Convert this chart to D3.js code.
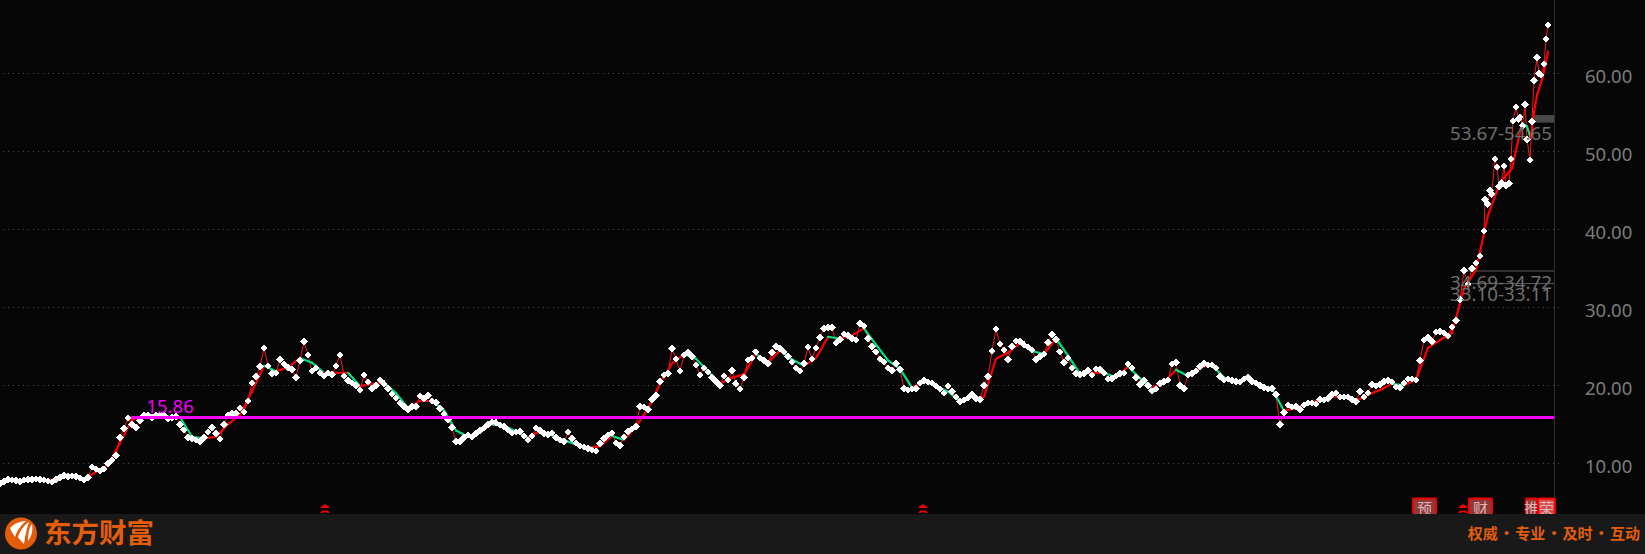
<!DOCTYPE html>
<html><head><meta charset="utf-8">
<style>html,body{margin:0;padding:0;background:#060606;overflow:hidden}svg{display:block}</style>
<script src="https://cdn.jsdelivr.net/npm/d3@7"></script></head><body>
<svg id="c" width="1645" height="554"></svg>
<script>
const closes = [
7.4,7.65,7.95,7.85,7.8,7.65,7.85,7.95,7.95,8.0,
7.95,7.85,7.75,7.6,7.95,8.2,8.45,8.3,8.4,8.3,
8.1,7.85,8.2,9.5,9.3,9.0,9.3,10.0,10.4,11.0,
13.3,14.45,15.8,15.0,14.6,15.5,16.1,16.2,15.9,16.1,
16.15,16.15,15.7,15.9,16,15,14.3,13.3,13.15,13,
12.8,13.3,14.0,14.6,13.8,13.1,15,16.2,16.4,16.4,
17.1,16.6,18,20.3,21.1,22.4,24.8,22.5,21.5,21.6,
23.3,22.7,22.3,22,21,23.2,25.6,23.9,21.8,22.2,
21.6,21.2,21.6,21.4,22.5,23.9,21.2,20.6,20.3,20.0,
19.4,21.3,20.4,19.6,20,20.7,20.2,19.6,18.9,18.4,
17.7,17.3,16.9,17.3,17.3,18.6,18.3,18.7,18,17.8,
17,16.3,15.6,14.6,12.8,12.8,13.3,13.6,13.4,13.8,
14.2,14.5,15,15.3,15.2,14.9,14.7,14.3,13.9,14,
14.05,13.5,13,13.5,14.5,14.2,13.8,13.7,13.9,13.3,
13,12.8,14,13.2,12.6,12.2,12.1,11.9,11.7,11.6,
12.55,13.2,13.6,13.9,12.6,12.3,13.4,14.1,14.4,14.7,
17.3,17.2,16.9,18.2,18.7,20.5,21.3,21.5,24.7,23.4,
21.8,23.9,24.2,23.7,22.6,21.3,22.2,21.7,21,20.5,
20,21.2,20.7,21.9,20.2,19.5,21,23.25,23.5,24.3,
23.5,23.2,22.8,24.2,25,24.7,24.3,23.7,23,22.2,
21.8,22.8,24.9,23.4,24.8,26.1,27.3,27.4,27.4,25.4,
25.9,26.6,26.4,26,25.8,27.9,27.6,26,25,24.3,
23.4,23,22.2,21.9,22.8,22,19.6,19.4,19.5,19.6,
20.3,20.6,20.4,20.3,19.9,19.5,19,19.9,19.2,18.5,
17.9,18.1,18.4,18.8,18.3,18.2,20,21.1,24.4,27.2,
25.3,24.5,23.3,25,25.7,25.6,25.2,24.9,24.5,23.3,
23.7,24,25.5,26.5,25.9,24.3,22.9,23.5,22.2,21.5,
21.4,21.5,21.9,21.3,22.1,22,21.6,20.8,20.9,21.2,
21.5,21.6,22.7,22.2,21,20.1,20.6,20,19.3,19.5,
20.2,20.5,20.7,22.7,22.9,20,19.6,21.3,21.5,21.8,
22.4,22.8,22.6,22.6,22.2,21.1,20.7,20.8,20.6,20.5,
20.4,20.8,21,20.5,20.3,20,19.7,19.5,19.6,18.8,
15,16.5,17.5,17.2,17.3,16.9,
17.5,17.7,17.75,17.6,18.2,18.1,18.3,18.8,19,18.5,
18.5,18.5,18.2,17.9,19.2,18.5,19,20.1,19.9,20.1,
20.5,20.6,20.4,19.8,19.7,20.3,20.8,20.8,20.7,
23.2,25.8,26.1,25.6,26.8,26.9,26.7,26.3,27.5,28.3,
31,34.7,33,35,35.7,36.6,39.8
];
const tailSessions = [371.25,371.9,372.5,372.9,373.75,374.25,374.75,375.4,376,376.5,377.25,377.75,378.25,379,379.6,380,380.7,381.25,381.75,382.5,383,383.5,384.25,384.75,385.25,386,386.5,387];
const tailCloses = [43.85,43.25,45,44.5,49,48,45.5,46,48.1,45.6,45.9,49,53.9,55.7,54.1,54.4,53.3,56,51.5,48.9,53.8,59.1,62,60,59.8,61.2,64.4,66.2];
const trendValues = [
7.4,7.85,7.8,8,7.8,8.2,8.35,7.9,8.9,9.8,12.6,15.6,
16.1,16.1,16,15.9,13.4,13.2,13.4,15.0,16.2,19.2,22.5,21.8,
22.3,23.5,22.9,21.6,21.6,21.6,19.9,20.2,20.3,19,
17.1,18,18,16.8,14.2,13.4,14.0,15,14.8,14.1,13.3,14.1,13.6,13,12.4,12,12.2,13.5,13,14.7,17,20.2,22.8,24,23.4,21.8,20.2,21,21.4,24,22.9,24.5,23.3,
22.5,23.5,26.2,26,26.4,27.3,25.2,23.2,22.1,19.7,20.5,19.9,19.2,18,18.5,18.5,23.4,24.2,25.4,24.4,24,26,23.8,21.5,21.6,21.6,21,22.4,20.9,19.7,20.4,22,21.2,22.3,22.6,21,20.5,20.9,20,19.6,16.7,17.1,
17.7,18.1,18.5,18.6,18,18.8,19.4,20.2,20,20.7,24.8,25.8,26.7,32.4,34.8
];
const trendTailSessions = [372,375,378,380.5,381.75,382.67,383.5,384.25,385.75,387];
const trendTailValues = [41.8,46,47.8,53.6,53.2,51.7,55,57.2,59.6,62.8];
const yTicks = [10,20,30,40,50,60];
const costLevel = 15.86;
const zoneLabels = ["53.67-54.65","34.69-34.72","33.10-33.11"];
const zoneLow = [53.67,34.69,33.10];
const zoneHigh = [54.65,34.72,33.11];
const zoneReach = [21,89,89];
const arrowSessions = [81.25,230.75,365.75];
const badgeSessions = [353.25,367.25,381.5,384.5];
const badgeWidths = [23,23,11,17];
const badgeTexts = ["预","财","推","荣"];
const footerBrand = "东方财富";
const footerSlogan = "权威 · 专业 · 及时 · 互动";

const W=1645,H=554,axisX=1554,footY=514;
const FONT='"Noto Sans","Noto Sans CJK SC",sans-serif';
const svg=d3.select('#c');
svg.append('rect').attr('width',W).attr('height',H).attr('fill','#060606');
const x=d3.scaleLinear().domain([0,411.25]).range([0,W]);
const y=d3.scaleLinear().domain([10,60]).range([463.3,73.3]);

// grid
const grid=svg.append('g').attr('transform',`translate(${axisX+5},0)`)
 .call(d3.axisLeft(y).tickValues(yTicks).tickSize(axisX+5).tickFormat(''));
grid.select('.domain').remove();
grid.selectAll('line').attr('stroke','#4a4a4a').attr('stroke-dasharray','1 4').attr('shape-rendering','crispEdges');

// zones
const zones=svg.append('g');
zoneLabels.forEach((t,i)=>{
  const top=y(zoneHigh[i]),bot=y(zoneLow[i]);
  zones.append('rect').attr('x',axisX-zoneReach[i]).attr('width',zoneReach[i])
   .attr('y',top).attr('height',Math.max(1,bot-top)).attr('fill',i==0?'#484848':'#5a5a5a');
});

// series
const pts=closes.map((v,i)=>[i,v]).concat(tailSessions.map((s,i)=>[s,tailCloses[i]]));
const tr=trendValues.map((v,i)=>[i*3,v]).concat(trendTailSessions.map((s,i)=>[s,trendTailValues[i]]));
const line=d3.line().x(d=>x(d[0])).y(d=>y(d[1]));
svg.append('path').attr('d',line(pts)).attr('fill','none').attr('stroke','#f01c1c').attr('stroke-width',1);
svg.append('g').selectAll('line').data(d3.pairs(tr)).join('line')
 .attr('x1',d=>x(d[0][0])).attr('y1',d=>y(d[0][1])).attr('x2',d=>x(d[1][0])).attr('y2',d=>y(d[1][1]))
 .attr('stroke',d=>d[1][1]>=d[0][1]?'#ff0000':'#00e283').attr('stroke-width',2.2).attr('stroke-linecap','round');
const diamond=d3.symbol().type(d3.symbolSquare).size(28);
svg.append('g').selectAll('path').data(pts).join('path')
 .attr('d',diamond()).attr('fill','#fff').attr('shape-rendering','crispEdges')
 .attr('transform',d=>`translate(${x(d[0])},${y(d[1])}) rotate(45)`);

// cost line
svg.append('line').attr('x1',131).attr('x2',axisX+1).attr('y1',y(costLevel)).attr('y2',y(costLevel))
 .attr('stroke','#ff00ff').attr('stroke-width',3).attr('shape-rendering','crispEdges');
svg.append('text').text(costLevel.toFixed(2)).attr('x',146.5).attr('y',y(costLevel)-5)
 .attr('fill','#f000f0').attr('font-family',FONT).attr('font-size',18.5);

// zone labels
zoneLabels.forEach((t,i)=>{
  svg.append('text').text(t).attr('x',1552).attr('y',y(zoneLow[i])+ (i==0?17:18)).attr('text-anchor','end')
   .attr('fill','#6e6e6e').attr('font-family',FONT).attr('font-size',18.8);
});

// axis
svg.append('line').attr('x1',axisX+.5).attr('x2',axisX+.5).attr('y1',0).attr('y2',footY).attr('stroke','#2e2e2e');
const ax=svg.append('g').attr('transform',`translate(${axisX},0)`)
 .call(d3.axisRight(y).tickValues(yTicks).tickSize(0).tickPadding(31).tickFormat(d3.format('.2f')));
ax.select('.domain').remove();
ax.selectAll('text').attr('fill','#7c7c7c').attr('font-family',FONT).attr('font-size',18.5).attr('dy','0.47em');

// event arrows
const arrows=svg.append('g').selectAll('g').data(arrowSessions).join('g')
 .attr('transform',d=>`translate(${x(d)},505)`).attr('fill','#f00000');
arrows.append('path').attr('d','M-5 3 L-3 1 L-1 -0.5 L1 -0.5 L3 1 L5 3 Z');
arrows.append('path').attr('d','M-5 8 L-3 5.5 L3 5.5 L5 8 L2.5 8 L0 7 L-2.5 8 Z');

// badges
const badges=svg.append('g').selectAll('g').data(badgeSessions).join('g')
 .attr('transform',d=>`translate(${x(d)},498.5)`);
badges.append('rect').attr('width',(d,i)=>badgeWidths[i]).attr('height',20).attr('rx',1)
 .attr('fill',(d,i)=>i==3?'#d84848':'#8e3a3a').attr('stroke','#f00000').attr('stroke-width',2);
badges.append('text').text((d,i)=>badgeTexts[i]).attr('x',(d,i)=>badgeWidths[i]/2).attr('y',15)
 .attr('text-anchor','middle').attr('fill','#dcb4b4').attr('font-size',15).attr('font-family','"Noto Sans CJK SC"');

// footer
svg.append('rect').attr('y',footY).attr('width',W).attr('height',H-footY).attr('fill','#191919');
svg.append('circle').attr('cx',21).attr('cy',533.5).attr('r',16).attr('fill','#e35d0b');
svg.append('path').attr('fill','#fff').attr('d','M10 528 C15 523 21 521 26 521 C20 526 17 531 15 537 C13 534 11 531 10 528 Z');
svg.append('path').attr('fill','#fff').attr('d','M18 537 C20 531 24 525 29 522 C27 528 25 536 24 544 C22 542 19 539 18 537 Z');
svg.append('path').attr('fill','#fff').attr('d','M28 541 C28 534 29 528 32 524 C33 530 32 536 28 541 Z');
svg.append('text').text(footerBrand).attr('x',44).attr('y',543).attr('fill','#e35d0b')
 .attr('font-family','"Noto Sans CJK SC"').attr('font-weight',700).attr('font-size',27.5);
svg.append('text').text(footerSlogan).attr('x',1640).attr('y',539).attr('text-anchor','end').attr('fill','#e35d0b')
 .attr('font-family','"Noto Sans CJK SC"').attr('font-weight',700).attr('font-size',15).attr('word-spacing','-2.2px');
</script></body></html>
